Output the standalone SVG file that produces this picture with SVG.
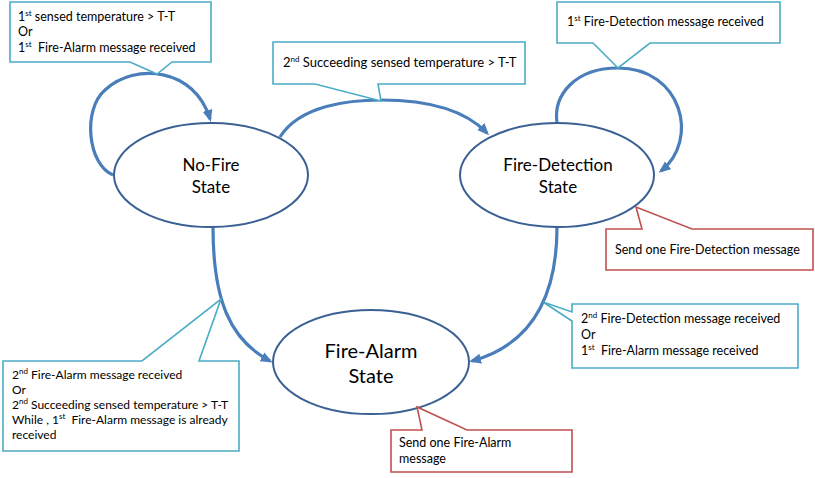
<svg xmlns="http://www.w3.org/2000/svg" width="815" height="478" viewBox="0 0 815 478">
<style>
.t{font-family:Lato,"Liberation Sans",sans-serif;font-size:12.5px;fill:#000;white-space:pre}
.s{font-size:8px}
.st{font-family:Lato,"Liberation Sans",sans-serif;font-size:17px;fill:#000;text-anchor:middle}
.cb{fill:#fff;stroke:#4BACC6;stroke-width:1.6}
.cr{fill:#fff;stroke:#C0504D;stroke-width:1.6}
.el{fill:#fff;stroke:#3A6094;stroke-width:2}
.cn{fill:none;stroke:#4A7EBB;stroke-width:3.2}
</style>
<defs>
<marker id="ah" markerUnits="userSpaceOnUse" markerWidth="14" markerHeight="12" refX="9" refY="5" orient="auto">
<path d="M0,0 L12,5 L0,10 Z" fill="#4A7EBB"/>
</marker>
</defs>
<g id="connectors">
<path class="cn" marker-end="url(#ah)" d="M113,175 C88,165 82,110 105,90 C135,62 195,68 210,119"/>
<path class="cn" marker-end="url(#ah)" d="M280,137 C300,105 350,100 381,100 C430,100 465,110 487,133"/>
<path class="cn" marker-end="url(#ah)" d="M557,123 C553,95 575,68 618,68 C682,68 700,140 661,171"/>
<path class="cn" marker-end="url(#ah)" d="M213,227 C213,300 230,340 270,361"/>
<path class="cn" marker-end="url(#ah)" d="M557,227 C557,300 530,345 472,361"/>
</g>
<g id="no-fire">
<ellipse class="el" cx="211" cy="175" rx="97" ry="52"/>
<text class="st" x="211" y="171">No-Fire</text>
<text class="st" x="211" y="193">State</text>
</g>
<g id="fire-detection">
<ellipse class="el" cx="557" cy="175" rx="97" ry="52"/>
<text class="st" x="558" y="171">Fire-Detection</text>
<text class="st" x="558" y="193">State</text>
</g>
<g id="fire-alarm">
<ellipse class="el" cx="371" cy="362" rx="98" ry="52"/>
<text class="st" x="371" y="358" style="font-size:20px">Fire-Alarm</text>
<text class="st" x="371" y="383" style="font-size:20px">State</text>
</g>
<g id="label-nofire-loop">
<path class="cb" d="M10,2 H211 V62 H172 L157,74 L130,62 H10 Z"/>
<text class="t" x="18" y="21">1<tspan class="s" baseline-shift="super">st</tspan> sensed temperature &gt; T-T</text>
<text class="t" x="18" y="36">Or</text>
<text class="t" x="18" y="52">1<tspan class="s" baseline-shift="super">st</tspan>  Fire-Alarm message received</text>
</g>
<g id="label-nofire-to-detection">
<path class="cb" d="M273,42 H525 V84 H378 L381,101 L315,84 H273 Z"/>
<text class="t" x="283" y="67" style="font-size:13px">2<tspan class="s" baseline-shift="super">nd</tspan> Succeeding sensed temperature &gt; T-T</text>
</g>
<g id="label-detection-loop">
<path class="cb" d="M557,2 H780 V43 H650 L618,68 L593,43 H557 Z"/>
<text class="t" x="567" y="26">1<tspan class="s" baseline-shift="super">st</tspan> Fire-Detection message received</text>
</g>
<g id="label-nofire-to-alarm">
<path class="cb" d="M3,361 H142 L221,299 L199,361 H239 V451 H3 Z"/>
<text class="t" x="12" y="379" style="font-size:12px">2<tspan class="s" baseline-shift="super">nd</tspan> Fire-Alarm message received</text>
<text class="t" x="12" y="394" style="font-size:12px">Or</text>
<text class="t" x="12" y="409" style="font-size:12px">2<tspan class="s" baseline-shift="super">nd</tspan> Succeeding sensed temperature &gt; T-T</text>
<text class="t" x="12" y="424" style="font-size:12px">While , 1<tspan class="s" baseline-shift="super">st</tspan>  Fire-Alarm message is already</text>
<text class="t" x="12" y="439" style="font-size:12px">received</text>
</g>
<g id="label-detection-to-alarm">
<path class="cb" d="M572,304 H798 V368 H572 V321 L543,302 L572,312 Z"/>
<text class="t" x="581" y="323">2<tspan class="s" baseline-shift="super">nd</tspan> Fire-Detection message received</text>
<text class="t" x="581" y="339">Or</text>
<text class="t" x="581" y="355">1<tspan class="s" baseline-shift="super">st</tspan>  Fire-Alarm message received</text>
</g>
<g id="action-detection">
<path class="cr" d="M606,229 H642 L636,207 L692,229 H813 V270 H606 Z"/>
<text class="t" x="615" y="254">Send one Fire-Detection message</text>
</g>
<g id="action-alarm">
<path class="cr" d="M391,430 H422 L417,407 L467,430 H572 V472 H391 Z"/>
<text class="t" x="399" y="447">Send one Fire-Alarm</text>
<text class="t" x="399" y="463">message</text>
</g>
</svg>
